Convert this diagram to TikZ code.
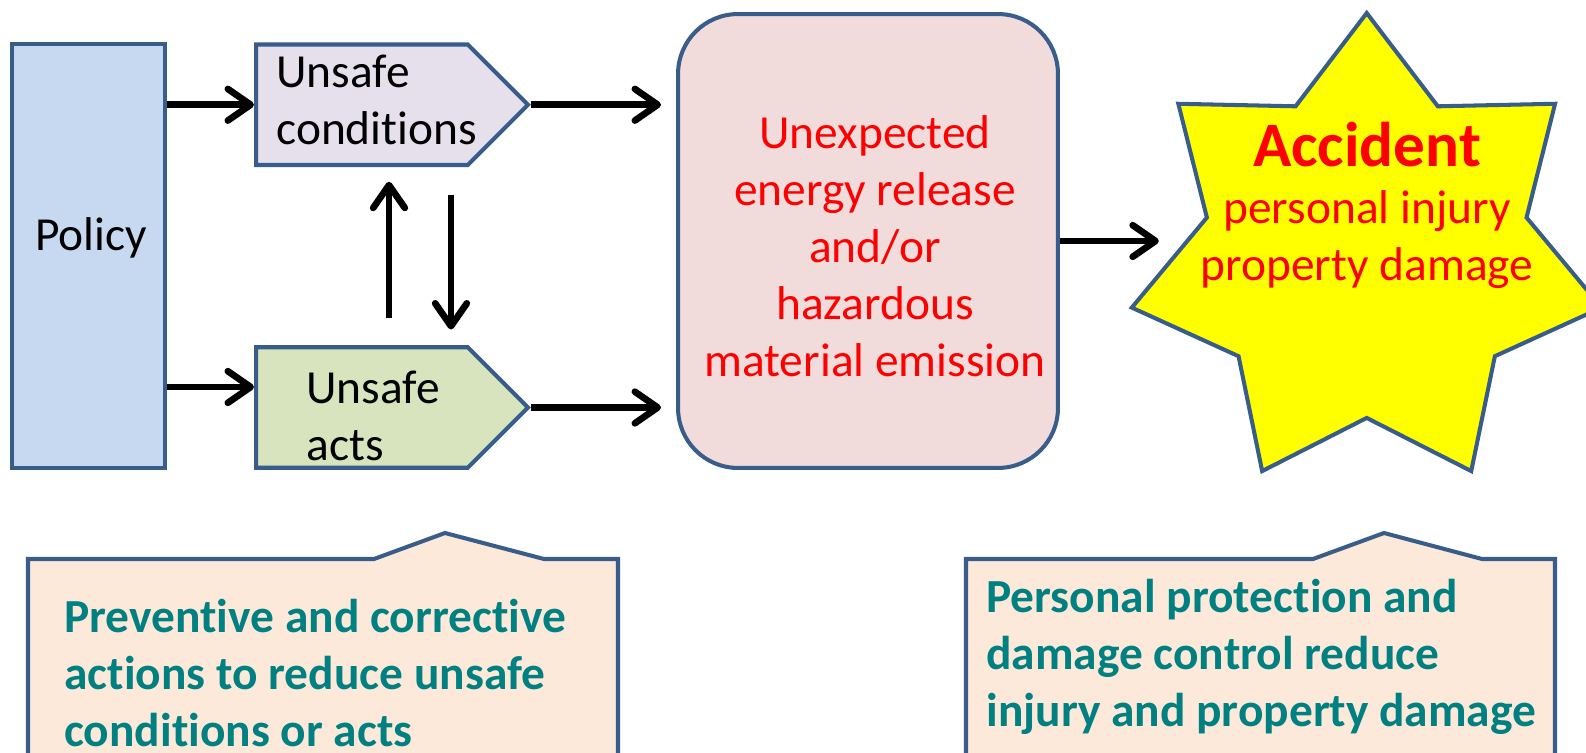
\documentclass[tikz,border=0pt]{standalone}
\usepackage{fontspec}
\setmainfont{Carlito}[Ligatures=NoCommon]
\usetikzlibrary{positioning, arrows.meta, shapes.geometric, shapes.symbols}
\definecolor{edgeblue}{HTML}{385D8A}
\definecolor{policyfill}{HTML}{C6D9F1}
\definecolor{condfill}{HTML}{E5E0EC}
\definecolor{actsfill}{HTML}{D7E4BD}
\definecolor{energyfill}{HTML}{F2DCDB}
\definecolor{starfill}{HTML}{FFFF00}
\definecolor{notefill}{HTML}{FDE9D9}
\definecolor{noteteal}{HTML}{008080}

\begin{document}
\begin{tikzpicture}[
    x=0.02cm, y=-0.02cm,
    blockbox/.style={draw=edgeblue, line width=2.3pt, inner sep=0pt},
    signbox/.style={blockbox, signal, signal to=east, signal pointer angle=90, minimum width=5.44cm, minimum height=2.41cm, anchor=west},
    txt/.style={font=\fontsize{27}{32.4}\selectfont, align=left, inner sep=0pt},
    redtxt/.style={txt, text=red, align=center},
    notetxt/.style={txt, font=\fontsize{27}{32.4}\selectfont\bfseries, text=noteteal},
    arrow/.style={-{Straight Barb[length=13pt, width=18pt, round]}, line width=3.8pt}
]
    \useasboundingbox (0,0) rectangle (1586,753);
    \clip (0,0) rectangle (1586,753);

    % Policy
    \node[blockbox, fill=policyfill, minimum width=3.06cm, minimum height=8.47cm] (policy) at (88.5,256) {};
    \node[txt, anchor=west] (policytxt) at (35,238) {Policy};

    % Unsafe conditions / acts
    \node[signbox, fill=condfill] (cond) at (254,104.75) {};
    \node[txt, anchor=west] (condtxt) at (276,100) {Unsafe\\conditions};
    \node[signbox, fill=actsfill] (acts) at (254,407.5) {};
    \node[txt, anchor=west] (actstxt) at (306,416) {Unsafe\\acts};

    % Energy release
    \node[blockbox, fill=energyfill, rounded corners=1.2cm, minimum width=7.6cm, minimum height=9.08cm] (energy) at (868,241) {};
    \node[redtxt] (energytxt) at (875,246) {Unexpected\\energy release\\and/or\\hazardous\\material emission};

    % Accident
    \node[blockbox, fill=starfill, star, star points=7, star point ratio=1.47, minimum size=9.64cm] (star) at (1366.7,254) {};
    \node[redtxt] (startxt) at (1367,205) {{\fontsize{36}{40}\selectfont\bfseries Accident}\\personal injury\\property damage};

    % Notes
    \draw[line width=2.3pt, draw=edgeblue, fill=notefill] (28,790) -- (28,559) -- (374,559) -- (445,533) -- (544,559) -- (618,559) -- (618,790);
    \node[notetxt, anchor=west] (leftnote) at (64,673) {Preventive and corrective\\actions to reduce unsafe\\conditions or acts};
    \draw[line width=2.3pt, draw=edgeblue, fill=notefill] (966,790) -- (966,559) -- (1313,559) -- (1384,533) -- (1482,559) -- (1555,559) -- (1555,790);
    \node[notetxt, anchor=west] (rightnote) at (986,657) {Personal protection and\\damage control reduce\\injury and property damage};

    % Arrows
    \draw[arrow] (cond.west -| policy.east) -- (cond.west);
    \draw[arrow] ([yshift=0.41cm]acts.west -| policy.east) -- ([yshift=0.41cm]acts.west);
    \draw[arrow, shorten <=0.6cm, shorten >=0.34cm] ([shift={(135,-60)}]acts.west) -- ([shift={(135,60)}]cond.west);
    \draw[arrow, shorten <=0.6cm, shorten >=0.36cm] ([shift={(197,60)}]cond.west) -- ([shift={(197,-60)}]acts.west);
    \draw[arrow, shorten >=0.3cm] (cond.east) -- (cond.east -| energy.west);
    \draw[arrow, shorten >=0.3cm] (acts.east) -- (acts.east -| energy.west);
    \draw[arrow, shorten >=0.3cm] (energy.east) -- (energy.east -| star.west);

\end{tikzpicture}
\end{document}
